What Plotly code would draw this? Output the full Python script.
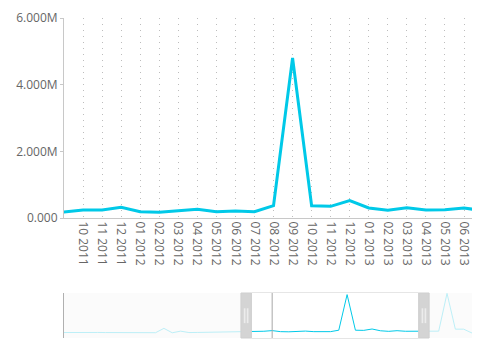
import plotly.graph_objects as go

# ---- data ----
months = ["11 2009", "12 2009",
          "01 2010", "02 2010", "03 2010", "04 2010", "05 2010", "06 2010",
          "07 2010", "08 2010", "09 2010", "10 2010", "11 2010", "12 2010",
          "01 2011", "02 2011", "03 2011", "04 2011", "05 2011", "06 2011",
          "07 2011", "08 2011", "09 2011", "10 2011", "11 2011", "12 2011",
          "01 2012", "02 2012", "03 2012", "04 2012", "05 2012", "06 2012",
          "07 2012", "08 2012", "09 2012", "10 2012", "11 2012", "12 2012",
          "01 2013", "02 2013", "03 2013", "04 2013", "05 2013", "06 2013",
          "07 2013", "08 2013", "09 2013", "10 2013", "11 2013", "12 2013"]
values = [0.08e6, 0.10e6,
          0.08e6, 0.07e6, 0.09e6, 0.08e6, 0.07e6, 0.09e6,
          0.08e6, 0.07e6, 0.06e6, 0.06e6, 0.60e6, 0.05e6,
          0.25e6, 0.08e6, 0.09e6, 0.10e6, 0.11e6, 0.12e6,
          0.14e6, 0.15e6, 0.18e6, 0.24e6, 0.24e6, 0.32e6,
          0.19e6, 0.17e6, 0.22e6, 0.26e6, 0.19e6, 0.21e6,
          0.19e6, 0.37e6, 4.80e6, 0.37e6, 0.35e6, 0.52e6,
          0.30e6, 0.23e6, 0.31e6, 0.24e6, 0.25e6, 0.30e6,
          0.22e6, 0.25e6, 4.95e6, 0.50e6, 0.50e6, 0.02e6]
y_tick_vals = [0, 2e6, 4e6, 6e6]
y_tick_text = ["0.000", "2.000M", "4.000M", "6.000M"]
marker_month = "12 2011"

# ---- view settings ----
view_lo, view_hi = 22.0, 43.42        # main chart visible window (category index)
win_lo, win_hi = 22.5, 42.6           # navigator window
handle_w = 1.25
n = len(months)

LINE = "#00c9e8"
LIGHT = "#bdeff7"
TXT = "#666666"
FONT = "Open Sans"

visible_ticks = [m for i, m in enumerate(months) if view_lo < i < view_hi]

fig = go.Figure()
fig.add_trace(go.Scatter(x=months, y=values, mode="lines",
                         line=dict(color=LINE, width=3), xaxis="x", yaxis="y",
                         hoverinfo="x+y", showlegend=False))
fig.add_trace(go.Scatter(x=months, y=values, mode="lines",
                         line=dict(color=LIGHT, width=1), xaxis="x2", yaxis="y2",
                         hoverinfo="skip", showlegend=False))
fig.add_trace(go.Scatter(x=months, y=values, mode="lines",
                         line=dict(color=LINE, width=1), xaxis="x3", yaxis="y3",
                         hoverinfo="skip", showlegend=False))

H = 353
MT, MB = 18, 15
PH = H - MT - MB
nav_y_range = [-0.6e6, 5.0e6]
bot_main = (H - MB - 218) / PH
nav_top = (H - MB - 293) / PH

shapes = []
shapes.append(dict(type="rect", xref="x2 domain", yref="y2 domain", x0=0, x1=1, y0=0, y1=1,
                   fillcolor="#fbfbfb", line=dict(width=0), layer="below"))
shapes.append(dict(type="rect", xref="x2", yref="y2 domain", x0=win_lo, x1=win_hi, y0=0, y1=1,
                   fillcolor="white", line=dict(color="#cccccc", width=1), layer="below"))
mi = months.index(marker_month)
shapes.append(dict(type="line", xref="x2", yref="y2 domain", x0=mi, x1=mi, y0=0, y1=1,
                   line=dict(color="#a8a8a8", width=1)))
for hx0, hx1 in [(win_lo - handle_w, win_lo), (win_hi, win_hi + handle_w)]:
    shapes.append(dict(type="rect", xref="x2", yref="y2 domain", x0=hx0, x1=hx1, y0=0, y1=1,
                       fillcolor="#d4d4d4", line=dict(color="#cfcfcf", width=1)))
    c = (hx0 + hx1) / 2
    for off in (-0.18, 0.18):
        shapes.append(dict(type="rect", xref="x2", yref="y2 domain",
                           x0=c + off - 0.1, x1=c + off + 0.1, y0=0.33, y1=0.66,
                           fillcolor="#ececec", line=dict(width=0)))

fig.update_layout(
    width=490, height=H,
    margin=dict(l=64, r=18, t=MT, b=MB, autoexpand=False),
    paper_bgcolor="white", plot_bgcolor="white",
    font=dict(family=FONT, size=12, color=TXT),
    showlegend=False,
    xaxis=dict(type="category", categoryorder="array", categoryarray=months,
               range=[view_lo, view_hi], domain=[0, 1], anchor="y", automargin=False,
               tickmode="array", tickvals=visible_ticks, ticktext=visible_ticks,
               tickangle=90, tickfont=dict(size=12, color=TXT),
               showgrid=True, gridcolor="#bdbdbd", griddash="1px,5px", gridwidth=1,
               showline=True, linecolor="#c8c8c8", linewidth=1,
               ticks="", zeroline=False, fixedrange=True),
    yaxis=dict(domain=[bot_main, 1.0], anchor="x", range=[0, 6e6], automargin=False,
               tickmode="array", tickvals=y_tick_vals, ticktext=y_tick_text,
               tickfont=dict(size=12, color=TXT),
               showgrid=False, zeroline=False,
               showline=True, linecolor="#c8c8c8", linewidth=1,
               ticks="outside", ticklen=3, tickcolor="#c8c8c8"),
    xaxis2=dict(type="category", categoryorder="array", categoryarray=months,
                range=[0, n - 1], domain=[0, 1], anchor="y2", automargin=False,
                showticklabels=False, showgrid=False, zeroline=False, showline=False, ticks=""),
    yaxis2=dict(domain=[0, nav_top], anchor="x2", range=nav_y_range, automargin=False,
                showticklabels=False, showgrid=False, zeroline=False,
                showline=True, linecolor="#b0b0b0", linewidth=1, ticks=""),
    xaxis3=dict(type="category", categoryorder="array", categoryarray=months,
                range=[win_lo, win_hi], domain=[win_lo / (n - 1), win_hi / (n - 1)],
                anchor="y3", automargin=False,
                showticklabels=False, showgrid=False, zeroline=False, showline=False, ticks=""),
    yaxis3=dict(domain=[0, nav_top], anchor="x3", range=nav_y_range, automargin=False,
                showticklabels=False, showgrid=False, zeroline=False, showline=False, ticks=""),
    shapes=shapes,
)

fig.write_html("out.html")
